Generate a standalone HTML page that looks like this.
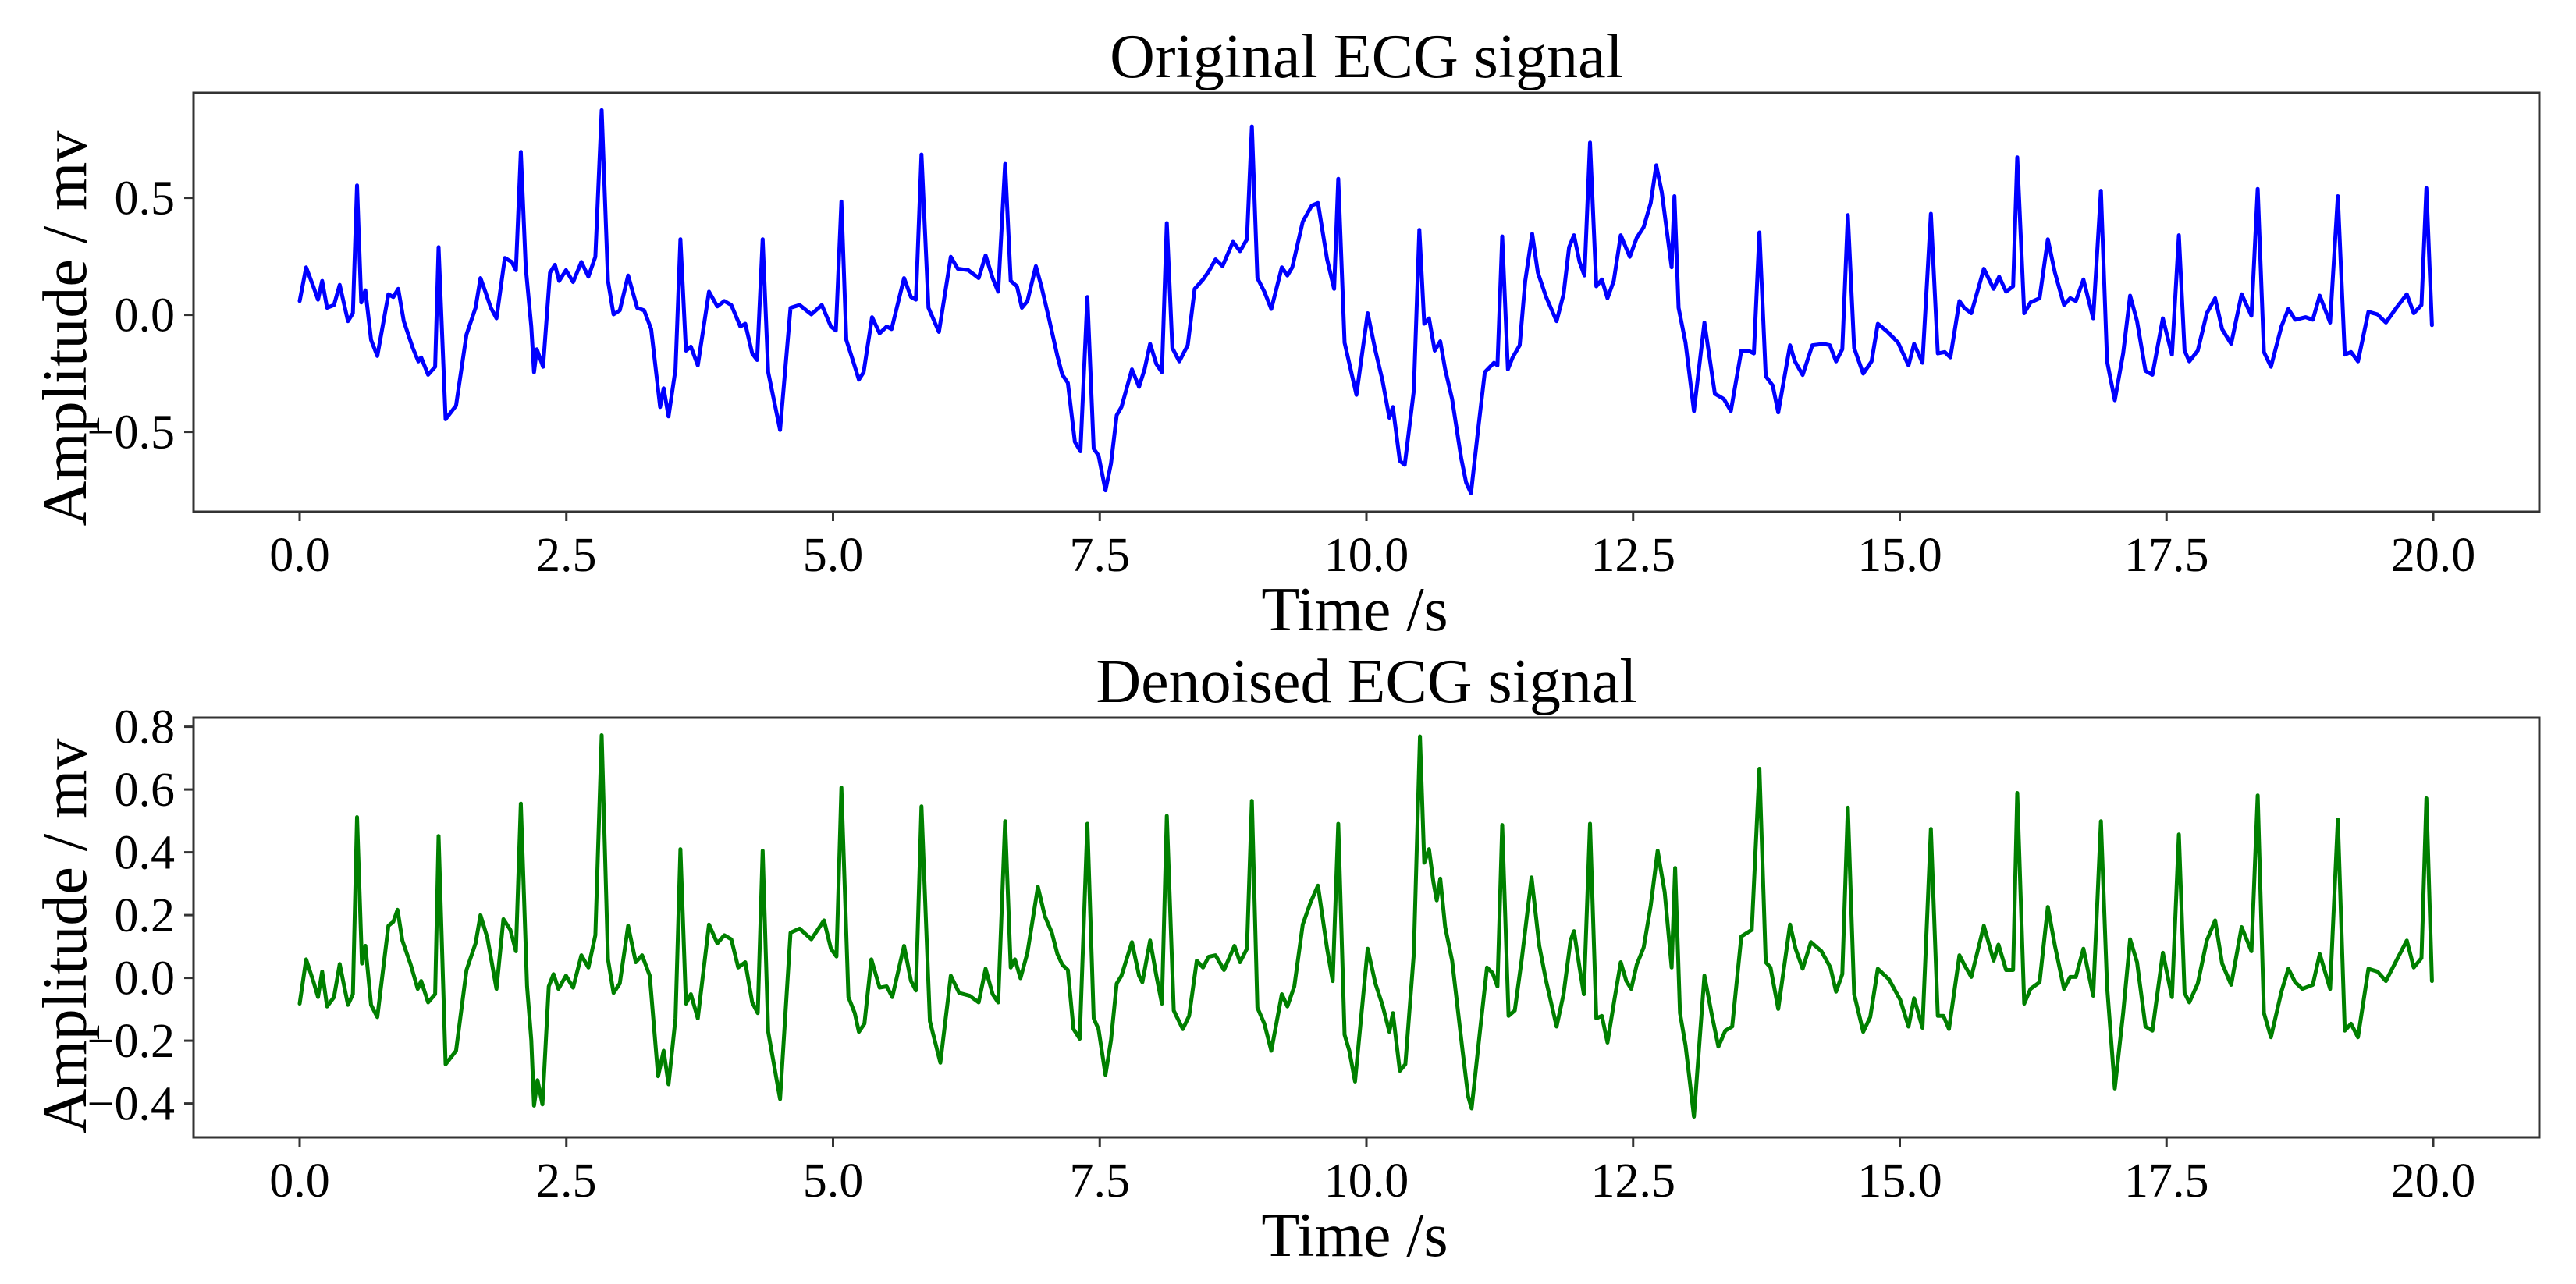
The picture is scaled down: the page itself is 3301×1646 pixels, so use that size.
<!DOCTYPE html>
<html>
<head>
<meta charset="utf-8">
<style>
  html, body { margin: 0; padding: 0; background: #fff; }
  svg { display: block; }
  text { font-family: "Liberation Serif", "DejaVu Serif", serif; fill: #000; }
</style>
</head>
<body>
<svg id="chart" width="3301" height="1646" viewBox="0 0 3301 1646" xmlns="http://www.w3.org/2000/svg">
  <rect x="0" y="0" width="3301" height="1646" fill="#fff"/>
  <g id="top"></g>
  <g id="bottom"></g>
</svg>
<script>
// ---- data ----
const origTime = [0.0,0.061,0.127,0.172,0.211,0.257,0.322,0.375,0.453,0.499,0.538,0.577,0.616,0.669,0.728,0.832,0.878,0.924,0.976,1.061,1.113,1.139,1.204,1.270,1.302,1.368,1.466,1.564,1.649,1.695,1.740,1.792,1.845,1.923,1.988,2.027,2.073,2.119,2.171,2.197,2.223,2.282,2.347,2.393,2.432,2.497,2.563,2.641,2.707,2.772,2.831,2.890,2.942,3.001,3.079,3.164,3.229,3.295,3.379,3.412,3.458,3.523,3.569,3.621,3.667,3.732,3.837,3.915,3.981,4.046,4.131,4.177,4.242,4.288,4.340,4.392,4.503,4.601,4.686,4.797,4.895,4.980,5.026,5.078,5.124,5.189,5.242,5.287,5.366,5.437,5.503,5.549,5.666,5.731,5.777,5.829,5.895,5.993,6.104,6.169,6.267,6.365,6.430,6.496,6.548,6.613,6.666,6.724,6.770,6.822,6.901,6.953,7.018,7.103,7.149,7.201,7.267,7.319,7.384,7.443,7.489,7.554,7.606,7.659,7.704,7.802,7.868,7.920,7.972,8.031,8.083,8.129,8.181,8.246,8.325,8.390,8.468,8.521,8.586,8.651,8.749,8.815,8.880,8.926,8.978,9.043,9.108,9.207,9.259,9.305,9.403,9.488,9.546,9.631,9.697,9.736,9.795,9.906,
10.012,10.084,10.150,10.215,10.248,10.313,10.359,10.444,10.496,10.542,10.587,10.640,10.692,10.738,10.803,10.888,10.934,10.980,11.045,11.110,11.195,11.228,11.273,11.326,11.371,11.437,11.489,11.554,11.607,11.685,11.783,11.848,11.900,11.946,11.998,12.044,12.096,12.155,12.207,12.260,12.318,12.384,12.469,12.534,12.599,12.665,12.717,12.769,12.828,12.861,12.887,12.926,12.991,13.070,13.168,13.266,13.351,13.416,13.514,13.580,13.632,13.684,13.743,13.808,13.860,13.971,14.017,14.089,14.180,14.285,14.344,14.402,14.461,14.513,14.572,14.657,14.735,14.794,14.886,14.984,15.082,15.134,15.212,15.291,15.356,15.421,15.474,15.559,15.604,15.670,15.788,15.879,15.931,15.996,16.062,16.101,16.166,16.225,16.310,16.388,16.454,16.539,16.597,16.650,16.721,16.813,16.885,16.943,17.015,17.094,17.159,17.224,17.303,17.368,17.466,17.551,17.616,17.669,17.714,17.793,17.878,17.956,18.021,18.106,18.204,18.296,18.355,18.413,18.479,18.577,18.642,18.707,18.805,18.871,18.936,19.034,19.106,19.171,19.230,19.295,19.393,19.478,19.557,19.655,19.753,19.818,19.890,19.936,19.988];
const origValue = [0.059,0.203,0.122,0.065,0.145,0.030,0.042,0.128,-0.027,0.007,0.553,0.053,0.105,-0.107,-0.176,0.088,0.076,0.111,-0.027,-0.142,-0.199,-0.182,-0.256,-0.222,0.289,-0.446,-0.388,-0.084,0.030,0.157,0.099,0.030,-0.015,0.243,0.226,0.191,0.696,0.203,-0.050,-0.245,-0.147,-0.222,0.180,0.214,0.145,0.191,0.140,0.226,0.163,0.248,0.874,0.145,0.002,0.019,0.168,0.030,0.019,-0.061,-0.394,-0.314,-0.434,-0.233,0.323,-0.153,-0.136,-0.216,0.099,0.036,0.059,0.042,-0.050,-0.038,-0.165,-0.193,0.323,-0.245,-0.492,0.030,0.042,0.002,0.042,-0.050,-0.067,0.484,-0.107,-0.199,-0.277,-0.245,-0.010,-0.079,-0.050,-0.061,0.157,0.076,0.065,0.685,0.030,-0.073,0.248,0.197,0.191,0.157,0.254,0.157,0.099,0.645,0.145,0.122,0.030,0.059,0.208,0.122,-0.004,-0.176,-0.256,-0.291,-0.543,-0.583,0.076,-0.572,-0.601,-0.750,-0.635,-0.429,-0.394,-0.233,-0.308,-0.233,-0.124,-0.210,-0.245,0.392,-0.142,-0.199,-0.130,0.111,0.151,0.185,0.237,0.208,0.312,0.272,0.323,0.805,0.157,0.099,0.025,0.203,0.168,0.203,0.398,0.467,0.478,0.237,0.111,0.581,-0.119,-0.342,
0.007,-0.153,-0.279,-0.440,-0.394,-0.624,-0.641,-0.325,0.363,-0.038,-0.015,-0.153,-0.113,-0.233,-0.360,-0.612,-0.716,-0.762,-0.497,-0.245,-0.205,-0.216,0.335,-0.233,-0.182,-0.130,0.145,0.346,0.180,0.076,-0.027,0.088,0.289,0.340,0.226,0.168,0.736,0.122,0.151,0.071,0.145,0.340,0.248,0.329,0.375,0.478,0.639,0.524,0.317,0.203,0.507,0.030,-0.119,-0.411,-0.033,-0.337,-0.360,-0.411,-0.153,-0.153,-0.165,0.352,-0.262,-0.302,-0.417,-0.130,-0.199,-0.257,-0.130,-0.124,-0.130,-0.199,-0.147,0.426,-0.142,-0.251,-0.199,-0.038,-0.073,-0.119,-0.216,-0.124,-0.205,0.432,-0.165,-0.159,-0.182,0.059,0.030,0.007,0.197,0.111,0.163,0.099,0.122,0.673,0.007,0.053,0.071,0.323,0.180,0.042,0.071,0.059,0.151,-0.015,0.530,-0.199,-0.365,-0.165,0.082,-0.027,-0.239,-0.256,-0.015,-0.170,0.340,-0.153,-0.199,-0.153,0.007,0.071,-0.061,-0.124,0.088,-0.004,0.538,-0.159,-0.222,-0.050,0.025,-0.021,-0.010,-0.021,0.082,-0.033,0.507,-0.170,-0.159,-0.199,0.013,0.002,-0.033,0.030,0.088,0.007,0.042,0.541,-0.044];

const denTime = [0.0,0.061,0.127,0.172,0.211,0.257,0.322,0.375,0.453,0.499,0.538,0.584,0.616,0.669,0.728,0.832,0.878,0.917,0.963,1.041,1.107,1.139,1.204,1.270,1.302,1.368,1.466,1.564,1.649,1.695,1.760,1.845,1.910,1.975,2.027,2.073,2.132,2.171,2.197,2.230,2.276,2.335,2.380,2.426,2.497,2.563,2.641,2.707,2.772,2.831,2.890,2.942,3.001,3.079,3.151,3.210,3.282,3.360,3.412,3.458,3.523,3.569,3.621,3.667,3.732,3.837,3.915,3.981,4.046,4.111,4.177,4.242,4.294,4.340,4.392,4.503,4.601,4.686,4.797,4.915,4.980,5.032,5.078,5.144,5.203,5.242,5.294,5.359,5.437,5.503,5.555,5.666,5.731,5.777,5.829,5.908,6.006,6.104,6.182,6.280,6.365,6.430,6.496,6.548,6.613,6.666,6.705,6.757,6.822,6.920,6.986,7.051,7.103,7.149,7.201,7.254,7.312,7.384,7.443,7.489,7.554,7.606,7.659,7.704,7.802,7.868,7.900,7.972,8.031,8.083,8.129,8.194,8.279,8.338,8.410,8.468,8.521,8.586,8.665,8.763,8.815,8.880,8.926,8.978,9.043,9.108,9.207,9.259,9.324,9.403,9.475,9.546,9.631,9.684,9.736,9.795,9.840,9.893,
10.012,10.084,10.150,10.215,10.248,10.313,10.365,10.444,10.502,10.542,10.587,10.627,10.659,10.692,10.738,10.803,10.901,10.953,10.986,11.064,11.130,11.182,11.228,11.273,11.332,11.391,11.456,11.548,11.620,11.685,11.783,11.848,11.914,11.946,11.998,12.038,12.096,12.155,12.207,12.260,12.325,12.384,12.436,12.482,12.534,12.599,12.665,12.730,12.796,12.861,12.894,12.939,12.991,13.070,13.168,13.240,13.299,13.364,13.429,13.514,13.612,13.684,13.743,13.788,13.860,13.971,14.023,14.089,14.167,14.265,14.350,14.402,14.461,14.513,14.572,14.657,14.723,14.794,14.899,15.003,15.082,15.134,15.212,15.291,15.356,15.409,15.461,15.559,15.604,15.670,15.788,15.879,15.925,15.996,16.062,16.101,16.166,16.225,16.310,16.388,16.454,16.539,16.597,16.650,16.721,16.813,16.885,16.943,17.015,17.094,17.159,17.224,17.303,17.368,17.466,17.551,17.616,17.669,17.714,17.793,17.878,17.956,18.021,18.106,18.204,18.296,18.355,18.413,18.479,18.577,18.642,18.707,18.773,18.871,18.936,19.034,19.106,19.171,19.230,19.295,19.393,19.478,19.557,19.655,19.753,19.818,19.890,19.936,19.988];
const denValue = [-0.082,0.059,-0.010,-0.061,0.020,-0.091,-0.061,0.044,-0.086,-0.052,0.512,0.046,0.102,-0.086,-0.125,0.166,0.179,0.217,0.119,0.042,-0.035,-0.010,-0.078,-0.052,0.452,-0.275,-0.232,0.025,0.110,0.200,0.127,-0.035,0.187,0.153,0.085,0.555,-0.027,-0.198,-0.407,-0.326,-0.403,-0.027,0.012,-0.035,0.007,-0.031,0.072,0.033,0.136,0.773,0.059,-0.048,-0.018,0.166,0.050,0.072,0.007,-0.313,-0.232,-0.339,-0.129,0.410,-0.082,-0.052,-0.129,0.170,0.110,0.136,0.123,0.033,0.050,-0.078,-0.112,0.405,-0.172,-0.386,0.144,0.157,0.123,0.183,0.093,0.068,0.606,-0.061,-0.112,-0.172,-0.146,0.059,-0.031,-0.027,-0.061,0.102,-0.010,-0.040,0.546,-0.138,-0.270,0.007,-0.048,-0.057,-0.078,0.029,-0.052,-0.078,0.499,0.033,0.059,-0.001,0.080,0.290,0.196,0.144,0.076,0.042,0.025,-0.163,-0.194,0.491,-0.129,-0.163,-0.309,-0.198,-0.018,0.007,0.114,0.007,-0.014,0.119,0.007,-0.082,0.516,-0.104,-0.163,-0.121,0.055,0.033,0.067,0.072,0.025,0.102,0.050,0.093,0.564,-0.095,-0.146,-0.232,-0.052,-0.091,-0.027,0.170,0.239,0.294,0.093,-0.010,0.491,-0.181,-0.232,-0.330,
0.093,-0.018,-0.086,-0.172,-0.112,-0.296,-0.275,0.076,0.769,0.367,0.410,0.307,0.247,0.316,0.162,0.055,-0.232,-0.377,-0.416,-0.172,0.033,0.016,-0.027,0.487,-0.121,-0.104,0.059,0.320,0.102,-0.010,-0.155,-0.052,0.119,0.149,0.033,-0.052,0.491,-0.129,-0.121,-0.206,-0.069,0.050,-0.010,-0.035,0.042,0.097,0.230,0.405,0.273,0.033,0.350,-0.112,-0.215,-0.442,0.007,-0.121,-0.219,-0.168,-0.155,0.132,0.153,0.666,0.050,0.033,-0.099,0.170,0.093,0.029,0.114,0.085,0.033,-0.044,0.012,0.542,-0.052,-0.172,-0.125,0.029,-0.005,-0.069,-0.155,-0.065,-0.159,0.474,-0.121,-0.121,-0.163,0.072,0.042,0.003,0.166,0.055,0.106,0.025,0.025,0.589,-0.082,-0.035,-0.014,0.226,0.102,-0.035,0.003,0.003,0.093,-0.057,0.499,-0.027,-0.352,-0.112,0.123,0.050,-0.155,-0.168,0.080,-0.061,0.457,-0.048,-0.078,-0.018,0.119,0.183,0.046,-0.022,0.162,0.085,0.581,-0.112,-0.189,-0.044,0.029,-0.014,-0.035,-0.022,0.076,-0.035,0.504,-0.168,-0.146,-0.189,0.029,0.020,-0.010,0.055,0.119,0.033,0.063,0.572,-0.010];

const xTicks = [0, 2.5, 5, 7.5, 10, 12.5, 15, 17.5, 20];
const xTickLabels = ["0.0","2.5","5.0","7.5","10.0","12.5","15.0","17.5","20.0"];
const topYTicks = [-0.5, 0.0, 0.5];
const topYTickLabels = ["\u22120.5","0.0","0.5"];
const botYTicks = [-0.4,-0.2,0.0,0.2,0.4,0.6,0.8];
const botYTickLabels = ["\u22120.4","\u22120.2","0.0","0.2","0.4","0.6","0.8"];

const NS = "http://www.w3.org/2000/svg";
function mk(tag, attrs, parent) {
  const e = document.createElementNS(NS, tag);
  for (const k in attrs) e.setAttribute(k, attrs[k]);
  parent.appendChild(e);
  return e;
}

function panel(g, cfg) {
  const L = 248, R = 3254, T = cfg.top, B = cfg.bottom;
  const xs = t => 384 + (t - 0) * (3118 - 384) / 20;
  const ys = v => cfg.y0 - v * cfg.pxPerUnit;

  // series line
  let d = "";
  cfg.time.forEach((t, i) => { d += (i ? "L" : "M") + xs(t).toFixed(1) + "," + ys(cfg.values[i]).toFixed(1); });
  const line = mk("path", {d: d, fill: "none", stroke: cfg.color, "stroke-width": 5, "stroke-linejoin": "round", "stroke-linecap": "round"}, g);
  
  

  // frame
  const frame = mk("rect", {x: L, y: T, width: R - L, height: B - T, fill: "none", stroke: "#333", "stroke-width": 3}, g);
  
  

  // x ticks
  xTicks.forEach((t, i) => {
    const tk = mk("line", {x1: xs(t), x2: xs(t), y1: B, y2: B + 12, stroke: "#333", "stroke-width": 3}, g);
    
    
    const lb = mk("text", {x: xs(t), y: B + 76, "font-size": 62, "text-anchor": "middle"}, g);
    lb.textContent = xTickLabels[i];
    
    
  });
  // y ticks
  cfg.yTicks.forEach((v, i) => {
    const tk = mk("line", {x1: L - 12, x2: L, y1: ys(v), y2: ys(v), stroke: "#333", "stroke-width": 3}, g);
    
    
    const lb = mk("text", {x: 224, y: ys(v) + 21, "font-size": 62, "text-anchor": "end"}, g);
    lb.textContent = cfg.yLabels[i];
    
    
  });
  // title
  const ti = mk("text", {x: (L + R) / 2, y: T - 20, "font-size": 80, "text-anchor": "middle"}, g);
  ti.textContent = cfg.title;
  
  
  // x label
  const xl = mk("text", {x: (L + R) / 2 - 15, y: B + 152, "font-size": 80, "text-anchor": "middle"}, g);
  xl.textContent = "Time /s";
  
  
  // y label
  const yl = mk("text", {x: 0, y: 0, "font-size": 80, "text-anchor": "middle", transform: "translate(110," + cfg.ylabelY + ") rotate(-90)"}, g);
  yl.textContent = "Amplitude / mv";
  
  
}

panel(document.getElementById("top"), {
  name: "original", top: 119, bottom: 656, y0: 403.6, pxPerUnit: 300,
  time: origTime, values: origValue, color: "#0000ff",
  yTicks: topYTicks, yLabels: topYTickLabels, title: "Original ECG signal", ylabelY: 421
});
panel(document.getElementById("bottom"), {
  name: "denoised", top: 920, bottom: 1458, y0: 1253.6, pxPerUnit: 402.5,
  time: denTime, values: denValue, color: "#008000",
  yTicks: botYTicks, yLabels: botYTickLabels, title: "Denoised ECG signal", ylabelY: 1200
});
</script>
</body>
</html>
